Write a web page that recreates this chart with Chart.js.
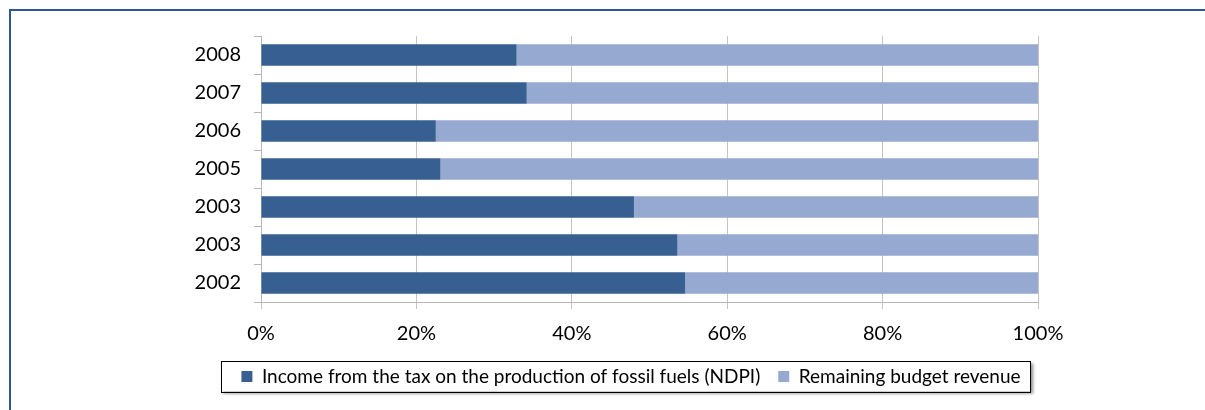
<!DOCTYPE html>
<html><head><meta charset="utf-8">
<script src="https://cdn.jsdelivr.net/npm/chart.js@4"></script>
<style>
html,body{margin:0;padding:0;background:#fff;}
#wrap{position:relative;width:1205px;height:410px;overflow:hidden;}
#frame{position:absolute;left:9px;top:9px;width:1210px;height:410px;border-top:2px solid #2B5797;border-left:2px solid #2B5797;pointer-events:none;}
canvas{position:absolute;left:0;top:0;}
</style></head><body>
<div id="wrap"><canvas id="c" width="1205" height="410"></canvas><div id="frame"></div></div>
<script>
const years = ['2008','2007','2006','2005','2003','2003','2002'];
const ndpiShare = [32.9, 34.2, 22.5, 23.1, 48.0, 53.6, 54.6];
const remainingShare = [67.1, 65.8, 77.5, 76.9, 52.0, 46.4, 45.4];
const xTickLabels = ['0%','20%','40%','60%','80%','100%'];
const seriesNames = ['Income from the tax on the production of fossil fuels (NDPI)', 'Remaining budget revenue'];
const seriesColors = ['#375F92', '#95A9D1'];

const FONT = 'Lato, "Noto Sans", sans-serif';

const legendShift = {
  id: 'legendShift',
  afterLayout(chart) {
    const lg = chart.legend;
    if (!lg) return;
    lg.left += 17; lg.right += 17;
  }
};

const legendBox = {
  id: 'legendBox',
  beforeDraw(chart) {
    const lg = chart.legend;
    if (!lg || !lg.legendHitBoxes || !lg.legendHitBoxes.length) return;
    const hb = lg.legendHitBoxes;
    const left = Math.min(...hb.map(h => h.left)) - 20;
    const right = Math.max(...hb.map(h => h.left + h.width)) + 10;
    const cy = hb[0].top + hb[0].height / 2;
    const top = cy - 16, h = 31;
    const ctx = chart.ctx;
    ctx.save();
    ctx.shadowColor = 'rgba(0,0,0,0.45)';
    ctx.shadowOffsetX = 2; ctx.shadowOffsetY = 2; ctx.shadowBlur = 3;
    ctx.fillStyle = '#fff';
    ctx.fillRect(left, top, right - left, h);
    ctx.restore();
    ctx.save();
    ctx.strokeStyle = '#000'; ctx.lineWidth = 1;
    ctx.strokeRect(Math.round(left) + 0.5, Math.round(top) + 0.5, Math.round(right - left), h);
    ctx.restore();
  }
};

new Chart(document.getElementById('c'), {
  type: 'bar',
  data: {
    labels: years,
    datasets: [
      { label: seriesNames[0], data: ndpiShare, backgroundColor: seriesColors[0], borderWidth: 0, categoryPercentage: 1, barPercentage: 0.57 },
      { label: seriesNames[1], data: remainingShare, backgroundColor: seriesColors[1], borderWidth: 0, categoryPercentage: 1, barPercentage: 0.57 }
    ]
  },
  options: {
    indexAxis: 'y',
    responsive: false,
    animation: false,
    devicePixelRatio: 1,
    layout: { padding: { left: 190, right: 167, top: 36, bottom: 14 } },
    plugins: {
      tooltip: { enabled: false },
      legend: {
        position: 'bottom',
        labels: { boxWidth: 11, boxHeight: 11, padding: 18, color: '#000', font: { family: FONT, size: 19 } }
      }
    },
    scales: {
      x: {
        stacked: true, min: 0, max: 100,
        ticks: { stepSize: 20, callback: (v, i) => xTickLabels[i], color: '#000', font: { family: FONT, size: 20 }, padding: 13, maxRotation: 0 },
        grid: { color: '#C4C4C4', tickLength: 7 },
        border: { color: '#B5B5B5' },
        afterFit(s) { s.height -= 10; }
      },
      y: {
        stacked: true,
        ticks: { color: '#000', font: { family: FONT, size: 20 }, padding: 13 },
        grid: { drawOnChartArea: false, drawTicks: true, tickLength: 7, color: '#B5B5B5', offset: true },
        border: { color: '#B5B5B5' },
        afterFit(s) { s.width = 71; }
      }
    }
  },
  plugins: [legendShift, legendBox]
});
</script>
</body></html>
